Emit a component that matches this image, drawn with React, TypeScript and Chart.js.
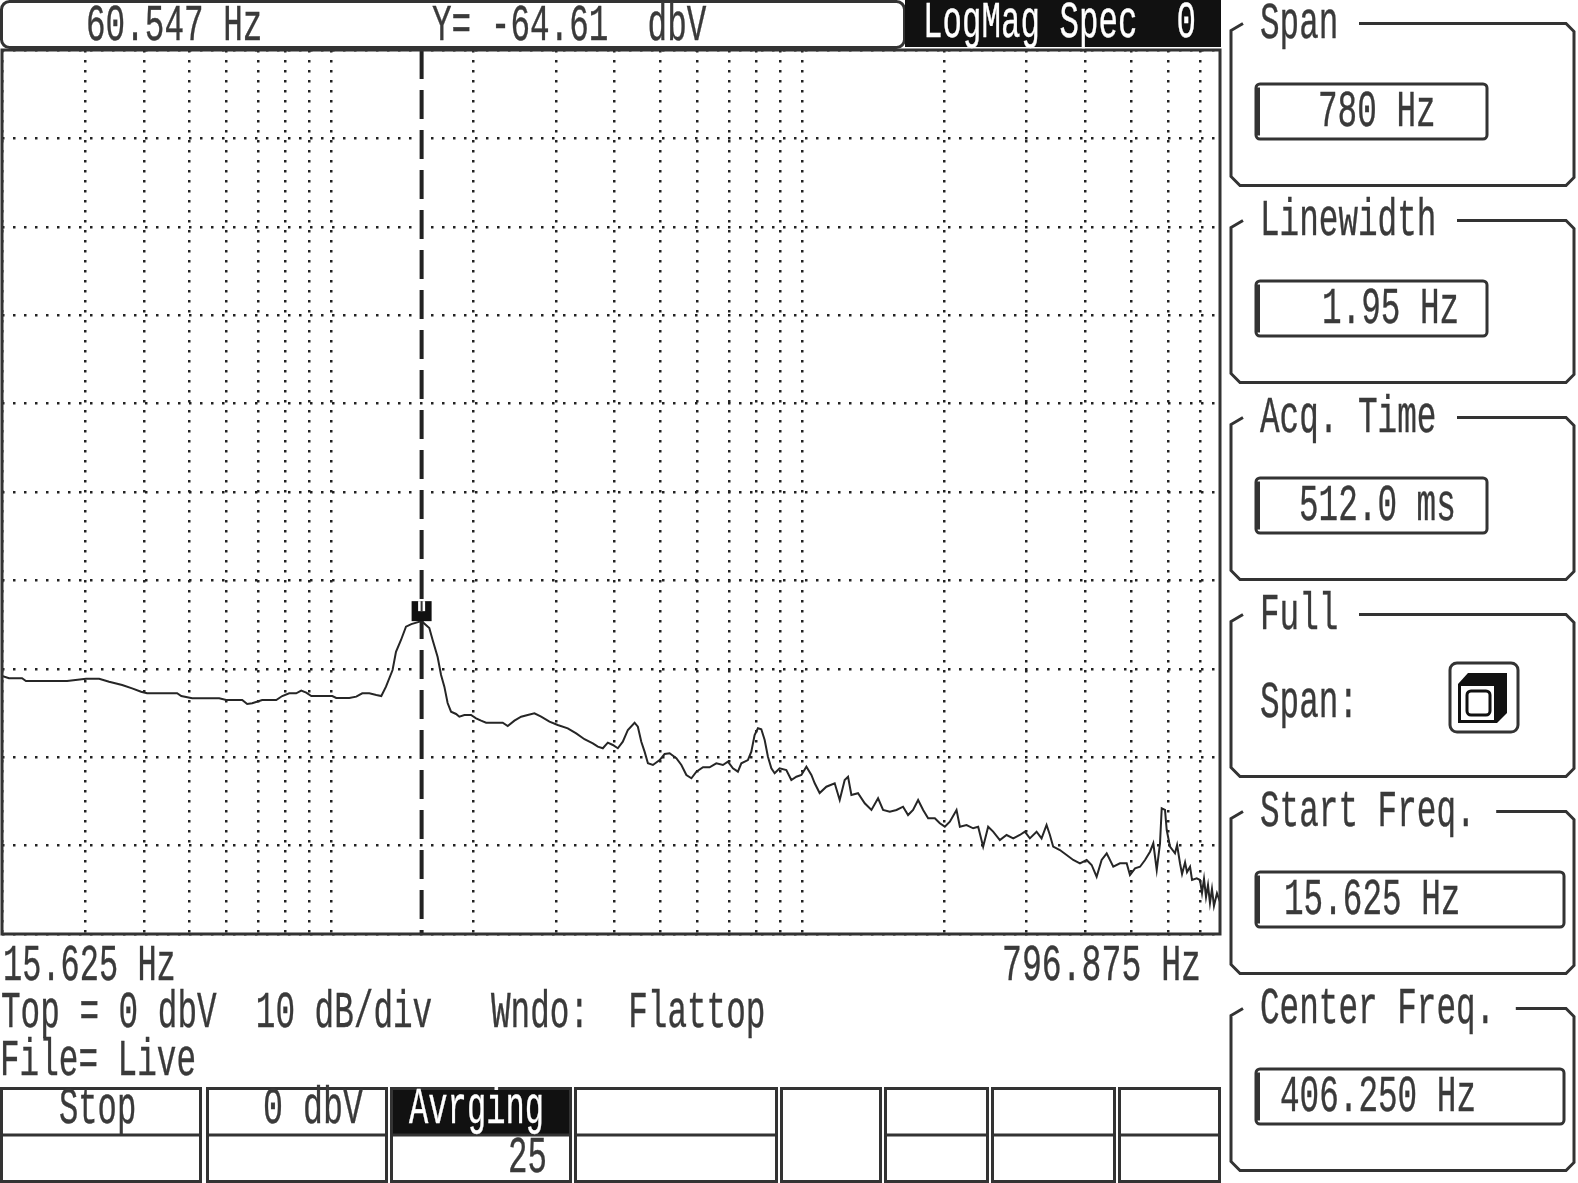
import React, { useEffect, useRef } from 'react';
import { Chart, registerables } from 'chart.js';

Chart.register(...registerables);

// ---------- data ----------
const START_FREQ_HZ = 15.625;
const STOP_FREQ_HZ = 796.875;
const TOP_DBV = 0;
const DB_PER_DIV = 10;
const DIVISIONS = 10;

const MARKER_FREQ_HZ = 60.547;
const MARKER_LEVEL_DBV = -64.61;

const FREQ_HZ = [
  15.63, 15.98, 16.67, 16.88, 19.28, 20.5, 21.38, 22.08, 23.03, 23.78,
  24.48, 24.96, 27.5, 27.87, 28.87, 31.5, 32.22, 33.93, 34.48, 35.04,
  36.19, 37.87, 38.61, 39.49, 40.39, 41.05, 41.72, 42.41, 45.38, 45.96,
  47.94, 49.03, 49.99, 51.13, 52.31, 53.16, 53.97, 55.13, 55.74, 56.65,
  57.57, 58.57, 60.547, 62.07, 62.74, 63.76, 64.47, 65.16, 65.85, 66.58,
  67.67, 68.39, 69.52, 71.02, 72.19, 73.36, 74.56, 78.67, 79.95, 81.7,
  83.49, 85.28, 87.14, 89.05, 91.48, 93.96, 97.05, 99.73, 102.43, 105.23,
  106.94, 108.68, 110.45, 112.24, 114.07, 115.92, 117.83, 120.41, 121.69, 123.05,
  124.36, 125.71, 127.75, 130.55, 132.67, 134.83, 137.78, 140.05, 142.33, 144.65,
  147.0, 150.18, 153.4, 156.75, 160.14, 162.75, 165.39, 168.08, 169.95, 173.59,
  175.52, 177.39, 179.31, 181.27, 183.25, 185.19, 187.25, 189.25, 192.31, 196.52,
  199.72, 203.0, 206.31, 209.66, 213.08, 215.39, 218.84, 223.64, 229.73, 233.47,
  237.27, 239.84, 242.45, 247.7, 253.13, 258.66, 264.25, 268.56, 274.44, 280.45,
  286.45, 291.13, 295.86, 300.73, 305.64, 310.61, 317.41, 322.56, 327.8, 333.14,
  340.42, 344.14, 351.59, 359.2, 365.05, 370.98, 377.02, 383.14, 391.53, 400.09,
  408.86, 417.64, 424.44, 431.34, 440.78, 447.95, 455.23, 460.19, 465.09, 475.27,
  485.67, 496.19, 507.03, 518.13, 526.55, 535.11, 543.81, 552.78, 564.63, 576.98,
  589.61, 595.89, 605.72, 615.56, 625.58, 635.75, 642.52, 649.66, 656.58, 660.22,
  667.25, 670.95, 678.09, 689.13, 693.8, 700.34, 705.0, 711.88, 716.4, 723.45,
  728.1, 739.3, 747.1, 751.9, 756.8, 761.7, 766.6, 771.5, 776.5, 781.5,
  789.1, 796.875,
];

const LEVEL_DBV = [
  -70.81, -71.07, -71.07, -71.38, -71.38, -71.12, -71.12, -71.46, -71.83, -72.21,
  -72.59, -72.77, -72.77, -73.08, -73.34, -73.34, -73.53, -73.53, -73.98, -73.9,
  -73.53, -73.53, -73.08, -72.77, -72.77, -72.47, -72.7, -73.08, -73.08, -73.3,
  -73.3, -73.15, -72.77, -72.77, -72.96, -73.08, -72.02, -70.14, -68.07, -66.74,
  -65.24, -64.95, -64.61, -65.38, -66.74, -68.67, -70.7, -72.02, -73.87, -74.85,
  -75.11, -75.42, -75.23, -75.23, -75.6, -75.87, -76.1, -76.1, -76.47, -75.87,
  -75.42, -75.23, -75.03, -75.42, -75.98, -76.36, -76.73, -77.3, -77.97, -78.43,
  -78.81, -78.99, -78.36, -78.62, -78.99, -78.25, -76.92, -76.1, -76.55, -78.25,
  -79.37, -80.69, -80.88, -80.32, -79.64, -79.56, -80.12, -80.88, -82.01, -82.38,
  -81.64, -81.14, -81.14, -80.69, -80.88, -80.5, -81.25, -81.64, -80.69, -80.32,
  -79.38, -77.49, -76.73, -76.84, -78.05, -79.94, -81.25, -81.82, -81.25, -81.45,
  -82.58, -82.21, -82.01, -81.07, -82.01, -82.95, -84.05, -83.34, -82.95, -84.84,
  -82.58, -82.21, -84.28, -84.08, -85.21, -85.97, -84.65, -85.97, -86.16, -85.97,
  -85.6, -86.54, -85.97, -84.84, -85.97, -86.91, -86.91, -87.48, -87.86, -87.3,
  -85.97, -87.86, -87.67, -88.04, -87.86, -90.12, -87.86, -88.42, -89.37, -88.8,
  -89.18, -88.8, -88.43, -89.18, -88.43, -89.18, -87.67, -88.8, -90.12, -90.5,
  -91.06, -91.63, -92.0, -91.63, -92.19, -93.52, -91.63, -90.87, -92.39, -92.0,
  -92.0, -93.33, -92.57, -92.39, -91.63, -90.69, -89.74, -92.76, -89.74, -85.78,
  -85.97, -88.24, -90.12, -90.87, -89.93, -92.0, -93.2, -91.9, -93.0, -92.4,
  -93.89, -93.7, -93.89, -95.36, -93.78, -95.81, -94.46, -96.49, -94.91, -96.83,
  -95.39, -96.38,
];

// log grid of the analyser: lines at these mantissas in each grid decade
const GRID_MANTISSAS = [1, 1.5, 2, 2.5, 3, 3.5, 4, 4.5, 5];
const GRID_DECADES = [1, 10, 100];
const GRID_SPAN = 386;

const TOP_FIELDS = ['60.547 Hz', 'Y= -64.61  dbV'];
const TRACE_TITLE = 'LogMag Spec  0';
const AXIS_START_LABEL = '15.625 Hz';
const AXIS_STOP_LABEL = '796.875 Hz';
const STATUS_LINE = 'Top = 0 dbV  10 dB/div   Wndo:  Flattop';
const FILE_LINE = 'File= Live';
const SOFTKEYS_TOP = ['Stop', '0 dbV', 'Avrging'];
const SOFTKEYS_BOTTOM = ['', '', '25'];
const PANEL_TITLES = ['Span', 'Linewidth', 'Acq. Time', 'Full', 'Start Freq.', 'Center Freq.'];
const PANEL_VALUES = ['780 Hz', '1.95 Hz', '512.0 ms', '', '15.625 Hz', '406.250 Hz'];

// ---------- layout ----------
const INK = '#333';
const TEXT_INK = '#3a3a3a';
const CHAR_W = 19.6;
const FONT = "'Liberation Mono', 'DejaVu Sans Mono', monospace";
const FONT_SIZE = 51;
const PLOT = { left: 2, top: 50, right: 1220, bottom: 934 };
const PAGE_W = 1578;
const PAGE_H = 1183;

function T(props: { x: number; y: number; s: string; fill?: string; cw?: number }) {
  const { x, y, s, fill = TEXT_INK, cw = CHAR_W } = props;
  return (
    <text
      x={x}
      y={y}
      textLength={s.length * cw}
      lengthAdjust="spacingAndGlyphs"
      fontFamily={FONT}
      fontSize={FONT_SIZE}
      fill={fill}
      stroke={fill}
      strokeWidth={0.4}
      xmlSpace="preserve"
      style={{ whiteSpace: 'pre' }}
    >
      {s}
    </text>
  );
}

const plotDecor = {
  id: 'plotDecor',
  afterDatasetsDraw(chart: any) {
    const { ctx, chartArea, scales } = chart;
    const px = scales.x.getPixelForValue(MARKER_FREQ_HZ);
    const py = scales.y.getPixelForValue(MARKER_LEVEL_DBV);
    ctx.save();
    ctx.fillStyle = '#111';
    ctx.fillRect(px - 10, py - 20, 20, 20);
    ctx.fillStyle = '#fff';
    ctx.fillRect(px - 3.5, py - 20, 7, 10);
    ctx.fillStyle = '#333';
    ctx.fillRect(px - 1, py - 20, 2, 10);
    ctx.restore();
    ctx.save();
    ctx.strokeStyle = INK;
    ctx.lineWidth = 3;
    ctx.strokeRect(chartArea.left, chartArea.top, chartArea.right - chartArea.left, chartArea.bottom - chartArea.top);
    ctx.restore();
  },
};

const GRID_TICKS = GRID_DECADES.flatMap((d) => GRID_MANTISSAS.map((m) => m * d)).filter((v) => v <= GRID_SPAN);

export default function App() {
  const ref = useRef<HTMLCanvasElement>(null);

  useEffect(() => {
    document.body.style.margin = '0';
    const canvas = ref.current;
    if (!canvas) return;
    const chart = new Chart(canvas, {
      type: 'line',
      data: {
        datasets: [
          {
            label: 'Spectrum',
            data: FREQ_HZ.map((f, i) => ({ x: f, y: LEVEL_DBV[i] })),
            borderColor: '#262626',
            borderWidth: 2,
            pointRadius: 0,
            tension: 0,
            xAxisID: 'x',
            yAxisID: 'y',
          },
          {
            label: 'Marker',
            data: [
              { x: MARKER_FREQ_HZ, y: TOP_DBV },
              { x: MARKER_FREQ_HZ, y: TOP_DBV - DB_PER_DIV * DIVISIONS },
            ],
            borderColor: '#222',
            borderWidth: 4,
            borderDash: [29, 11],
            pointRadius: 0,
            xAxisID: 'x',
            yAxisID: 'y',
          },
        ],
      },
      options: {
        responsive: false,
        animation: false,
        devicePixelRatio: 1,
        layout: {
          padding: {
            left: PLOT.left,
            top: PLOT.top,
            right: PAGE_W - PLOT.right,
            bottom: PAGE_H - PLOT.bottom,
          },
        },
        plugins: { legend: { display: false }, tooltip: { enabled: false } },
        scales: {
          x: {
            type: 'logarithmic',
            min: START_FREQ_HZ,
            max: STOP_FREQ_HZ,
            grid: { display: false, drawTicks: false },
            ticks: { display: false },
            border: { display: false },
          },
          xg: {
            type: 'logarithmic',
            position: 'bottom',
            min: 1,
            max: GRID_SPAN,
            afterBuildTicks: (scale: any) => {
              scale.ticks = GRID_TICKS.map((v) => ({ value: v }));
            },
            grid: { color: '#222', lineWidth: 2.5, drawTicks: false },
            ticks: { display: false },
            border: { display: false, dash: [2.5, 7.5] },
          },
          y: {
            type: 'linear',
            min: TOP_DBV - DB_PER_DIV * DIVISIONS,
            max: TOP_DBV,
            ticks: { display: false, stepSize: DB_PER_DIV },
            grid: { color: '#222', lineWidth: 2.5, drawTicks: false },
            border: { display: false, dash: [2.5, 8.5] },
          },
        },
      } as any,
      plugins: [plotDecor],
    });
    return () => chart.destroy();
  }, []);

  const BTN_COLS: [number, number][] = [
    [0, 202], [206, 388], [390, 572], [574, 778], [780, 882], [884, 989], [991, 1116], [1118, 1221],
  ];
  const PANEL_X = 1261;
  const panelLine = (i: number) => 23.5 + i * 197;
  const VALUE_X = [1318, 1322, 1299, 0, 1284, 1280];
  const VALUE_W = [231, 231, 231, 0, 308, 308];

  return (
    <div style={{ position: 'fixed', left: 0, top: 0, width: PAGE_W, height: PAGE_H, background: '#fff', overflow: 'hidden' }}>
      <canvas
        ref={ref}
        width={PAGE_W}
        height={PAGE_H}
        style={{ position: 'absolute', left: 0, top: 0, width: PAGE_W, height: PAGE_H }}
      />
      <svg
        width={PAGE_W}
        height={PAGE_H}
        style={{ position: 'absolute', left: 0, top: 0, pointerEvents: 'none' }}
      >
        {/* top bar */}
        <rect x={1.5} y={1.5} width={903} height={46} rx={8} fill="none" stroke={INK} strokeWidth={3} />
        <rect x={905} y={0} width={316} height={47} fill="#111" />
        <T x={86} y={40} s={TOP_FIELDS[0]} />
        <T x={432} y={40} s={TOP_FIELDS[1]} />
        <T x={923} y={37} s={TRACE_TITLE} fill="#fff" cw={19.5} />

        {/* under-plot annotation */}
        <T x={3} y={980} s={AXIS_START_LABEL} cw={19.2} />
        <T x={1002} y={980} s={AXIS_STOP_LABEL} cw={19.9} />
        <T x={1} y={1027} s={STATUS_LINE} />
        <T x={0} y={1075} s={FILE_LINE} />

        {/* softkeys */}
        {BTN_COLS.map(([a, b], i) => (
          <g key={i}>
            {i === 2 && <rect x={a} y={1087} width={b - a} height={48} fill="#111" />}
            <rect x={a + 1.5} y={1088.5} width={b - a - 3} height={93} fill="none" stroke={INK} strokeWidth={3} />
            {i !== 4 && <line x1={a} x2={b} y1={1135} y2={1135} stroke={INK} strokeWidth={3} />}
          </g>
        ))}
        <T x={59} y={1123} s={SOFTKEYS_TOP[0]} cw={19.3} />
        <T x={263} y={1123} s={SOFTKEYS_TOP[1]} cw={20} />
        <T x={409} y={1123} s={SOFTKEYS_TOP[2]} fill="#fff" cw={19.3} />
        <T x={508} y={1172} s={SOFTKEYS_BOTTOM[2]} cw={19.5} />

        {/* right-hand panels */}
        {PANEL_TITLES.map((title, i) => {
          const L = panelLine(i);
          const titleEnd = PANEL_X + (title.length + 1) * CHAR_W;
          const d = `M ${titleEnd} ${L} H 1566 L 1574 ${L + 8} V ${L + 154} L 1566 ${L + 162} H 1240 L 1231 ${L + 153} V ${L + 7} L 1243 ${L}`;
          return (
            <g key={title}>
              <path d={d} fill="none" stroke={INK} strokeWidth={3} />
              <T x={PANEL_X - 1} y={L + 14} s={title} />
              {PANEL_VALUES[i] !== '' && (
                <g>
                  <rect x={1256} y={L + 60.5} width={VALUE_W[i]} height={55} rx={4} fill="none" stroke={INK} strokeWidth={3} />
                  <line x1={1257.5} x2={1257.5} y1={L + 64} y2={L + 112} stroke={INK} strokeWidth={5} />
                  <T x={VALUE_X[i]} y={L + 102} s={PANEL_VALUES[i]} />
                </g>
              )}
            </g>
          );
        })}
        {/* Full span button */}
        <T x={PANEL_X - 1} y={panelLine(3) + 102} s="Span:" />
        <rect x={1450} y={663} width={68} height={69} rx={7} fill="none" stroke={INK} strokeWidth={3} />
        <polygon points="1458,684 1468,673 1507,673 1507,713 1497,723 1458,723" fill="#111" />
        <rect x={1461} y={686} width={33} height={34} fill="#fff" />
        <rect x={1467} y={691} width={23} height={24} rx={4} fill="none" stroke="#111" strokeWidth={3} />
      </svg>
    </div>
  );
}
